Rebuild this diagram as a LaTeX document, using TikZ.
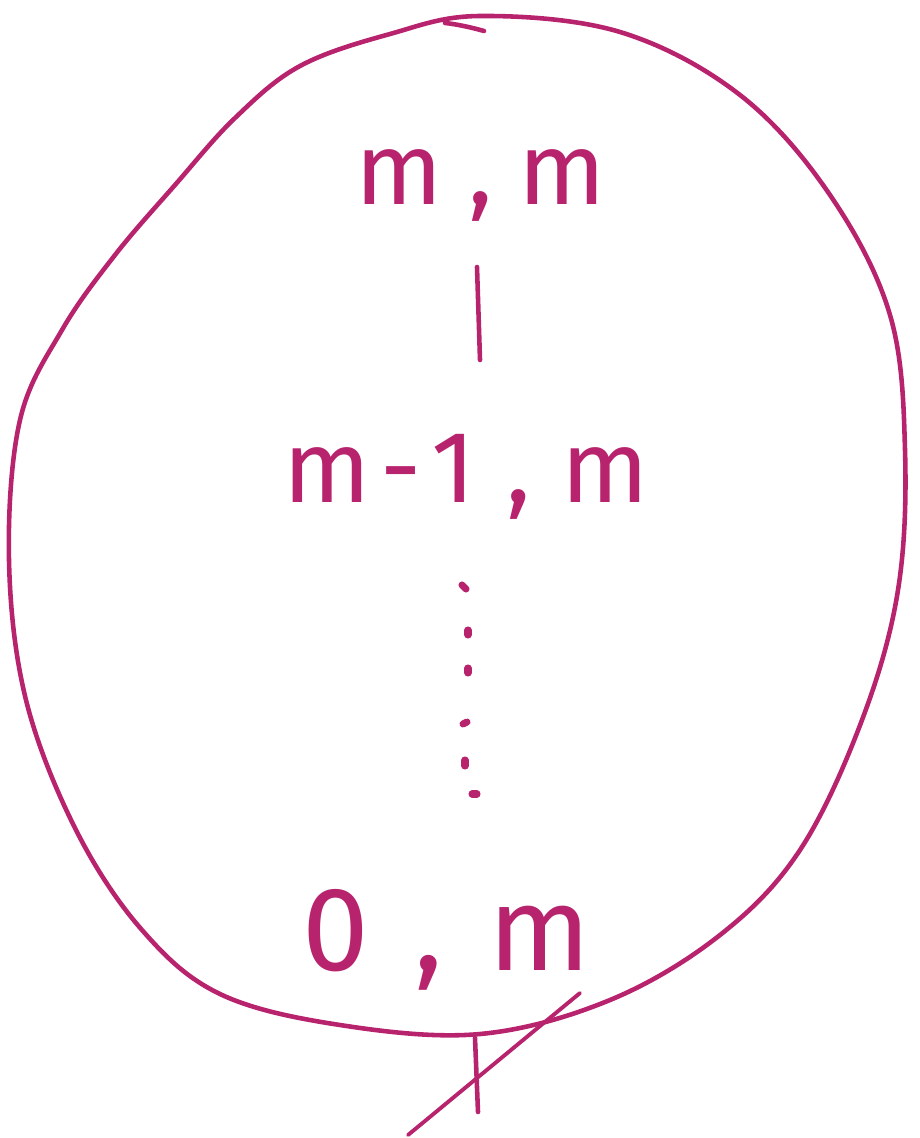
\documentclass[tikz,border=0pt]{standalone}
\usepackage{fontspec}
\setmainfont{Fira Sans}
\definecolor{ink}{RGB}{184,35,110}
\begin{document}
\begin{tikzpicture}[x=0.02cm,y=-0.02cm,
  pen/.style={draw=ink,line width=2.6pt,line cap=round,line join=round},
  thinpen/.style={draw=ink,line width=2.2pt,line cap=round},
  dotpen/.style={draw=ink,line width=4pt,line cap=round},
  hand/.style={text=ink,font=\fontsize{58}{60}\selectfont,inner sep=0pt,anchor=base},
  bighand/.style={hand,font=\fontsize{68}{70}\selectfont}]
\useasboundingbox (0,0) rectangle (919,1138);
% outline blob
\draw[pen] plot[smooth cycle,tension=0.6] coordinates {
 (480,16) (620,32) (740,95) (830,195) (890,315) (905,450) (898,590) (862,720)
 (800,850) (720,935) (610,1000) (480,1034) (340,1025) (220,994) (142,930)
 (76,830) (26,700) (9,560) (20,420) (62,330) (115,255) (175,185) (235,118) (300,66) (390,34)};
% start hook at top
\coordinate (h1) at (484,31);
\coordinate (h2) at (445,23);
\draw[pen] (h1) .. controls (470,27) and (455,24) .. (h2);
% labels
\node[hand] (mm) at (481,205) {m\hspace{0.25em},\hspace{0.25em}m};
\node[hand] (m1) at (466,502) {m\hspace{0.1em}-\hspace{0.1em}1\hspace{0.3em},\hspace{0.3em}m};
\node[bighand] (zm) at (447,970) {0\hspace{0.38em},\hspace{0.38em}m};
% vertical connector
\coordinate (v1) at (477,267);
\coordinate (v2) at (480,360);
\draw[pen] (v1) -- (v2);
% dots
\foreach \x/\y/\dx/\dy in {462/585/4/4, 468/630/0/5, 468/668/0/5, 463/724/4/-2, 465/760/0/6, 472/794/5/0}{
  \draw[dotpen] (\x,\y) -- ++(\dx,\dy);
}
% bottom marks
\coordinate (s1) at (408,1135);
\coordinate (s2) at (580,993);
\draw[thinpen] (s1) -- (s2);
\coordinate (t1) at (475,1038);
\coordinate (t2) at (478,1112);
\draw[pen] (t1) -- (t2);
\end{tikzpicture}
\end{document}
